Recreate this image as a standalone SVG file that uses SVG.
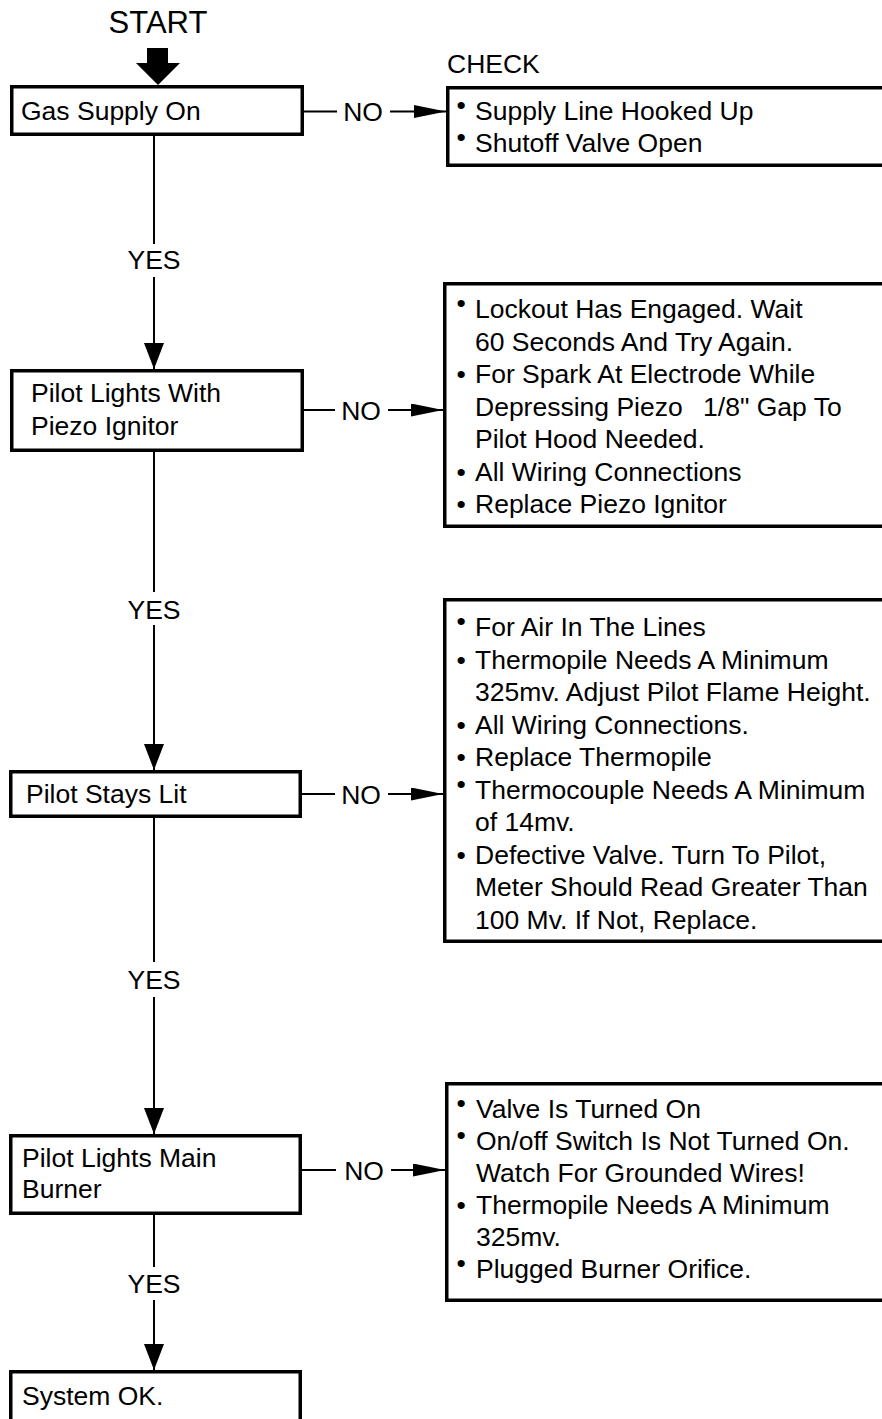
<svg xmlns="http://www.w3.org/2000/svg" width="882" height="1419" viewBox="0 0 882 1419">
<style>
text{font-family:"Liberation Sans",Arial,sans-serif;font-size:26.5px;fill:#000}
.title{font-size:31px}
.c{text-anchor:middle}
.box{fill:#fff;stroke:#000;stroke-width:3.5}
.ln{stroke:#000;stroke-width:2;fill:none}
</style>
<defs>
<marker id="av" markerUnits="userSpaceOnUse" markerWidth="26" markerHeight="20" refX="26" refY="10" orient="auto">
<path d="M0,0 L26,10 L0,20 z" fill="#000"/>
</marker>
<marker id="ah" markerUnits="userSpaceOnUse" markerWidth="32" markerHeight="13" refX="32" refY="6.5" orient="auto">
<path d="M0,0 L32,6.5 L0,13 z" fill="#000"/>
</marker>
</defs>

<g id="start">
<text class="title c" x="158" y="33">START</text>
<polygon points="147,48 168,48 168,63 180,63 158,85 136,63 147,63" fill="#000"/>
</g>

<g id="connectors">
<line class="ln" x1="154" y1="136" x2="154" y2="244"/>
<line class="ln" x1="154" y1="277" x2="154" y2="369" marker-end="url(#av)"/>
<text class="c" x="154" y="269">YES</text>
<line class="ln" x1="154" y1="452" x2="154" y2="592"/>
<line class="ln" x1="154" y1="625" x2="154" y2="770" marker-end="url(#av)"/>
<text class="c" x="154" y="619">YES</text>
<line class="ln" x1="154" y1="818" x2="154" y2="962"/>
<line class="ln" x1="154" y1="997" x2="154" y2="1134" marker-end="url(#av)"/>
<text class="c" x="154" y="989">YES</text>
<line class="ln" x1="154" y1="1215" x2="154" y2="1267"/>
<line class="ln" x1="154" y1="1300" x2="154" y2="1370" marker-end="url(#av)"/>
<text class="c" x="154" y="1293">YES</text>

<line class="ln" x1="304" y1="111.5" x2="337" y2="111.5"/>
<text class="c" x="363" y="121">NO</text>
<line class="ln" x1="390" y1="111.5" x2="446" y2="111.5" marker-end="url(#ah)"/>

<line class="ln" x1="304" y1="410" x2="335" y2="410"/>
<text class="c" x="361" y="419.5">NO</text>
<line class="ln" x1="388" y1="410" x2="443" y2="410" marker-end="url(#ah)"/>

<line class="ln" x1="302" y1="794" x2="335" y2="794"/>
<text class="c" x="361" y="803.5">NO</text>
<line class="ln" x1="388" y1="794" x2="443" y2="794" marker-end="url(#ah)"/>

<line class="ln" x1="302" y1="1170" x2="336" y2="1170"/>
<text class="c" x="364" y="1179.5">NO</text>
<line class="ln" x1="391" y1="1170" x2="445" y2="1170" marker-end="url(#ah)"/>
</g>

<g id="n1">
<rect class="box" x="11.75" y="86.75" width="290.5" height="47.5"/>
<text x="21" y="120">Gas Supply On</text>
</g>

<g id="n2">
<rect class="box" x="11.75" y="370.75" width="290.5" height="79.5"/>
<text x="31" y="402">Pilot Lights With</text>
<text x="31" y="435">Piezo Ignitor</text>
</g>

<g id="n3">
<rect class="box" x="10.75" y="771.75" width="289.5" height="44.5"/>
<text x="26" y="803">Pilot Stays Lit</text>
</g>

<g id="n4">
<rect class="box" x="10.75" y="1135.75" width="289.5" height="77.5"/>
<text x="22" y="1167">Pilot Lights Main</text>
<text x="22" y="1198">Burner</text>
</g>

<g id="n5">
<rect class="box" x="10.75" y="1371.75" width="289.5" height="80"/>
<text x="22" y="1405">System OK.</text>
</g>

<g id="c1">
<text x="447" y="73">CHECK</text>
<rect class="box" x="447.75" y="87.75" width="460" height="77.5"/>
<text x="456.5" y="120"><tspan dy="-6">•</tspan><tspan x="475" dy="6">Supply Line Hooked Up</tspan></text>
<text x="456.5" y="152"><tspan dy="-6">•</tspan><tspan x="475" dy="6">Shutoff Valve Open</tspan></text>
</g>

<g id="c2">
<rect class="box" x="444.75" y="283.75" width="460" height="242.5"/>
<text x="456.5" y="318"><tspan dy="-6">•</tspan><tspan x="475" dy="6">Lockout Has Engaged. Wait</tspan></text>
<text x="475" y="350.5">60 Seconds And Try Again.</text>
<text x="456.5" y="383">•<tspan x="475">For Spark At Electrode While</tspan></text>
<text x="475" y="415.5">Depressing Piezo <tspan dx="13">1/8" Gap To</tspan></text>
<text x="475" y="448">Pilot Hood Needed.</text>
<text x="456.5" y="480.5">•<tspan x="475">All Wiring Connections</tspan></text>
<text x="456.5" y="513">•<tspan x="475">Replace Piezo Ignitor</tspan></text>
</g>

<g id="c3">
<rect class="box" x="444.75" y="599.75" width="460" height="341.5"/>
<text x="456.5" y="636"><tspan dy="-6">•</tspan><tspan x="475" dy="6">For Air In The Lines</tspan></text>
<text x="456.5" y="668.5">•<tspan x="475">Thermopile Needs A Minimum</tspan></text>
<text x="475" y="701">325mv. Adjust Pilot Flame Height.</text>
<text x="456.5" y="733.5">•<tspan x="475">All Wiring Connections.</tspan></text>
<text x="456.5" y="766">•<tspan x="475">Replace Thermopile</tspan></text>
<text x="456.5" y="798.5"><tspan dy="-6">•</tspan><tspan x="475" dy="6">Thermocouple Needs A Minimum</tspan></text>
<text x="475" y="831">of 14mv.</text>
<text x="456.5" y="863.5">•<tspan x="475">Defective Valve. Turn To Pilot,</tspan></text>
<text x="475" y="896">Meter Should Read Greater Than</text>
<text x="475" y="928.5">100 Mv. If Not, Replace.</text>
</g>

<g id="c4">
<rect class="box" x="446.75" y="1083.75" width="460" height="216.5"/>
<text x="456.5" y="1118"><tspan dy="-6">•</tspan><tspan x="476" dy="6">Valve Is Turned On</tspan></text>
<text x="456.5" y="1150"><tspan dy="-6">•</tspan><tspan x="476" dy="6">On/off Switch Is Not Turned On.</tspan></text>
<text x="476" y="1182">Watch For Grounded Wires!</text>
<text x="456.5" y="1213.5">•<tspan x="476">Thermopile Needs A Minimum</tspan></text>
<text x="476" y="1245.5">325mv.</text>
<text x="456.5" y="1277.5"><tspan dy="-6">•</tspan><tspan x="476" dy="6">Plugged Burner Orifice.</tspan></text>
</g>
</svg>
